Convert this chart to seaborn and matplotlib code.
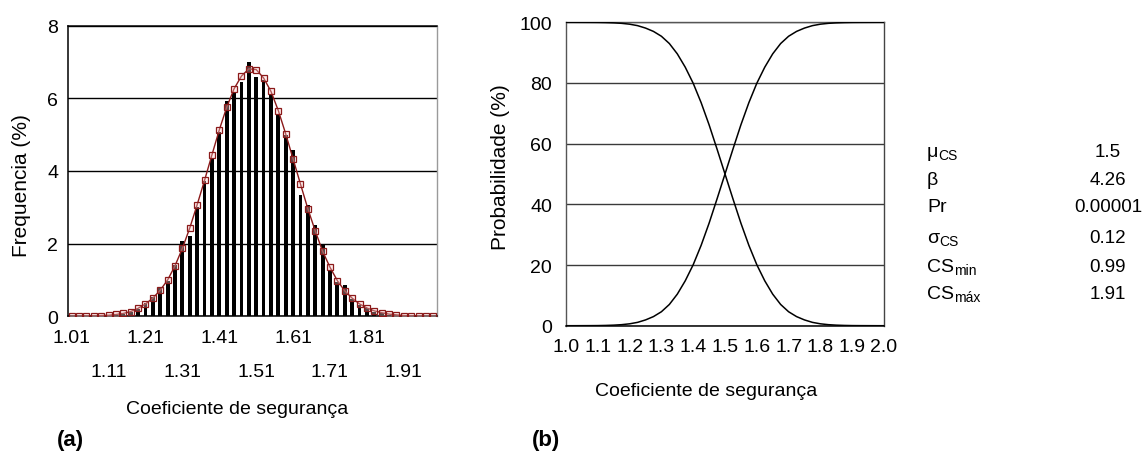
import numpy as np
import matplotlib
matplotlib.use("Agg")
import matplotlib.pyplot as plt
import seaborn as sns

# ---- data -------------------------------------------------------------
# (a) histogram of the safety factor, bin centres every 0.02
cs_bins = [f"{v:.2f}" for v in np.round(np.arange(1.01, 2.0, 0.02), 2)]
freq = [0.00, 0.00, 0.00, 0.00, 0.01, 0.01, 0.03, 0.06, 0.12, 0.20,
        0.36, 0.52, 0.78, 0.98, 1.40, 2.06, 2.21, 3.00, 3.72, 4.33,
        5.08, 5.93, 6.17, 6.46, 7.01, 6.58, 6.51, 6.10, 5.53, 4.98,
        4.59, 3.34, 3.05, 2.52, 1.95, 1.28, 0.94, 0.86, 0.48, 0.32,
        0.23, 0.13, 0.08, 0.04, 0.02, 0.01, 0.01, 0.00, 0.00, 0.00]
fit = [0.00, 0.00, 0.01, 0.01, 0.02, 0.03, 0.05, 0.08, 0.13, 0.22,
       0.34, 0.50, 0.72, 1.00, 1.39, 1.87, 2.43, 3.07, 3.74, 4.44,
       5.13, 5.75, 6.26, 6.61, 6.81, 6.79, 6.56, 6.19, 5.66, 5.02,
       4.33, 3.64, 2.96, 2.35, 1.79, 1.35, 0.98, 0.70, 0.50, 0.34,
       0.23, 0.15, 0.10, 0.06, 0.04, 0.02, 0.01, 0.01, 0.00, 0.00]

# (b) cumulative probability curves
cs_grid = [1.000, 1.025, 1.050, 1.075, 1.100, 1.125, 1.150, 1.175, 1.200, 1.225,
           1.250, 1.275, 1.300, 1.325, 1.350, 1.375, 1.400, 1.425, 1.450, 1.475,
           1.500, 1.525, 1.550, 1.575, 1.600, 1.625, 1.650, 1.675, 1.700, 1.725,
           1.750, 1.775, 1.800, 1.825, 1.850, 1.875, 1.900, 1.925, 1.950, 1.975, 2.000]
prob_up = [0.0, 0.0, 0.01, 0.02, 0.04, 0.09, 0.18, 0.34, 0.62, 1.1,
           1.9, 3.0, 4.6, 7.0, 10.4, 14.8, 20.1, 26.5, 33.8, 41.8,
           50.0, 58.2, 66.2, 73.5, 79.9, 85.2, 89.6, 93.0, 95.4, 97.0,
           98.1, 98.9, 99.38, 99.66, 99.82, 99.91, 99.96, 99.98, 99.99, 100.0, 100.0]
prob_down = [100.0, 100.0, 99.99, 99.98, 99.96, 99.91, 99.82, 99.66, 99.38, 98.9,
             98.1, 97.0, 95.4, 93.0, 89.6, 85.2, 79.9, 73.5, 66.2, 58.2,
             50.0, 41.8, 33.8, 26.5, 20.1, 14.8, 10.4, 7.0, 4.6, 3.0,
             1.9, 1.1, 0.62, 0.34, 0.18, 0.09, 0.04, 0.02, 0.01, 0.0, 0.0]
x_ticks_b = [1.0, 1.1, 1.2, 1.3, 1.4, 1.5, 1.6, 1.7, 1.8, 1.9, 2.0]

# summary statistics
stat_names = [("μ", "CS"), ("β", ""), ("Pr", ""), ("σ", "CS"), ("CS", "min"), ("CS", "máx")]
stat_values = ["1.5", "4.26", "0.00001", "0.12", "0.99", "1.91"]

# ---- style ------------------------------------------------------------
sns.set_theme(style="white")
plt.rcParams["font.family"] = ["Liberation Sans", "DejaVu Sans"]
plt.rcParams["text.color"] = "black"
plt.rcParams["axes.labelcolor"] = "black"
plt.rcParams["xtick.color"] = "black"
plt.rcParams["ytick.color"] = "black"

TICK_FS = 14
XLABEL_FS = 14
YLABEL_FS = 15
W, H = 1145, 460

fig = plt.figure(figsize=(W / 100, H / 100), dpi=100)
ax1 = fig.add_axes([68 / W, 1 - 317.3 / H, 369 / W, 290.7 / H])
ax2 = fig.add_axes([566 / W, 1 - 326.7 / H, 318 / W, 303.4 / H])

# ---- (a) histogram ------------------------------------------------------
red = "#8b1a1a"
sns.barplot(x=cs_bins, y=freq, color="black", saturation=1, width=0.52,
            linewidth=0, ax=ax1, zorder=3)
sns.lineplot(x=np.arange(len(fit)), y=fit, ax=ax1, color=red, lw=1.0,
             marker="s", markersize=5, markerfacecolor=(1.0, 0.82, 0.82, 0.35),
             markeredgecolor=red, markeredgewidth=0.9, zorder=4)

n = len(cs_bins)
ax1.set_xlim(-0.5, n - 0.5)
ax1.set_ylim(0, 8)
ax1.set_yticks([0, 2, 4, 6, 8])
ax1.set_yticklabels(["0", "2", "4", "6", "8"])
lab_pos = list(range(0, n, 5))
lab_txt = [cs_bins[k] if (j % 2 == 0) else "\n" + cs_bins[k]
           for j, k in enumerate(lab_pos)]
ax1.set_xticks(lab_pos)
ax1.set_xticklabels(lab_txt, linespacing=2.3)
ax1.set_xticks(np.arange(-0.5, n, 1.0), minor=True)
ax1.tick_params(axis="x", which="major", length=0, pad=9, labelsize=TICK_FS)
ax1.tick_params(axis="x", which="minor", length=10, width=0.9,
                direction="inout", color="#222222")
ax1.tick_params(axis="y", which="major", length=5, width=1, direction="out",
                pad=2, labelsize=TICK_FS)
ax1.set_axisbelow(True)
ax1.yaxis.grid(True, color="black", lw=1.0)
ax1.xaxis.grid(False)
for side in ["left", "bottom", "top"]:
    ax1.spines[side].set_color("black")
    ax1.spines[side].set_linewidth(1.1)
ax1.spines["right"].set_color("#9a9a9a")
ax1.spines["right"].set_linewidth(1.0)
ax1.set_xlabel("Coeficiente de segurança", fontsize=XLABEL_FS)
ax1.set_ylabel("Frequencia (%)", fontsize=YLABEL_FS)
ax1.xaxis.label.set_va("center")
ax1.yaxis.label.set_va("center")
ax1.xaxis.set_label_coords((237 - 68) / 369, (317.3 - 410) / 290.7)
ax1.yaxis.set_label_coords((22 - 68) / 369, (317.3 - 186) / 290.7)

# ---- (b) cumulative probabilities ----------------------------------------
sns.lineplot(x=cs_grid, y=prob_down, ax=ax2, color="black", lw=1.1, zorder=3)
sns.lineplot(x=cs_grid, y=prob_up, ax=ax2, color="black", lw=1.1, zorder=3)
ax2.set_xlim(1.0, 2.0)
ax2.set_ylim(0, 100)
ax2.set_xticks(x_ticks_b)
ax2.set_xticklabels([f"{v:.1f}" for v in x_ticks_b])
ax2.set_yticks([0, 20, 40, 60, 80, 100])
ax2.tick_params(axis="x", length=12, width=1, direction="inout",
                color="#222222", pad=3, labelsize=TICK_FS)
ax2.tick_params(axis="y", length=8, width=1, direction="out",
                color="#444444", pad=2, labelsize=TICK_FS)
ax2.set_axisbelow(True)
ax2.yaxis.grid(True, color="#3a3a3a", lw=1.0)
ax2.xaxis.grid(False)
ax2.spines["bottom"].set_color("black")
ax2.spines["bottom"].set_linewidth(1.1)
ax2.spines["left"].set_color("#555555")
ax2.spines["top"].set_color("#555555")
ax2.spines["right"].set_color("#444444")
for side in ["left", "top", "right"]:
    ax2.spines[side].set_linewidth(1.0)
ax2.set_xlabel("Coeficiente de segurança", fontsize=XLABEL_FS)
ax2.set_ylabel("Probabilidade (%)", fontsize=YLABEL_FS)
ax2.xaxis.label.set_va("center")
ax2.yaxis.label.set_va("center")
ax2.xaxis.set_label_coords((706 - 566) / 318, (326.7 - 392) / 303.4)
ax2.yaxis.set_label_coords((501 - 566) / 318, (326.7 - 167) / 303.4)

# ---- statistics table ---------------------------------------------------
row_base = [157, 185, 212, 243, 272, 299]
for (main, sub), val, yb in zip(stat_names, stat_values, row_base):
    t = fig.text(927 / W, 1 - yb / H, main, fontsize=14, ha="left", va="baseline")
    if sub:
        ax2.annotate(sub, xy=(1.0, 0.05), xycoords=t, fontsize=10,
                     ha="left", va="baseline", annotation_clip=False)
    fig.text(1108 / W, 1 - yb / H, val, fontsize=13.5, ha="center", va="baseline")

# ---- panel tags ----------------------------------------------------------
fig.text(70 / W, 1 - 441 / H, "(a)", fontsize=16, fontweight="bold",
         ha="center", va="center")
fig.text(546 / W, 1 - 441 / H, "(b)", fontsize=16, fontweight="bold",
         ha="center", va="center")

fig.savefig("out.png", dpi=100, facecolor="white")
